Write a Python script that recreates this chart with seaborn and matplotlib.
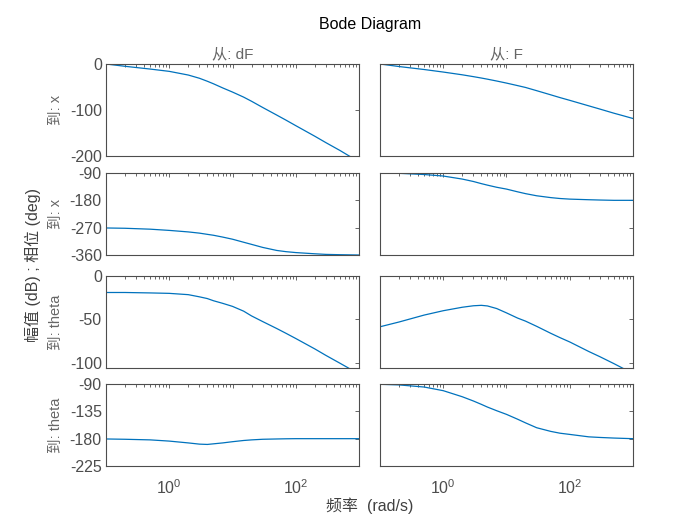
import numpy as np
import pandas as pd
import matplotlib
matplotlib.use("Agg")
import matplotlib.pyplot as plt
import matplotlib.ticker as mticker
import seaborn as sns

sns.set_theme(style="white")
plt.rcParams['font.family'] = ['Liberation Sans', 'Noto Sans CJK SC', 'DejaVu Sans']
plt.rcParams['mathtext.fontset'] = 'custom'
plt.rcParams['mathtext.rm'] = 'Liberation Sans'
plt.rcParams['axes.unicode_minus'] = False

# frequency grid (rad/s)
freq = [0.1, 0.2, 0.5, 1, 2, 3, 4, 5, 7, 10, 15, 20, 30, 50, 70, 100, 200, 300, 500, 700, 1000]

# from dF
mag_x_dF = [0, -5, -11, -16, -24, -31, -37.5, -43, -52, -61, -72, -81, -94.5, -111, -122,
            -134, -157, -171, -188, -200, -212]
phase_x_dF = [-271, -272, -275, -279, -284, -288, -292, -295, -301, -308, -318, -325, -335,
              -345, -349, -352, -356, -358, -359, -359.5, -360]
mag_th_dF = [-19, -19, -19.5, -20, -21.5, -24, -26, -28.5, -31.5, -35, -40.5, -46, -52.5,
             -60.5, -66, -72, -84, -91.5, -100.5, -106.5, -113]
phase_th_dF = [-180.5, -181, -182, -184, -187, -189, -189.5, -188.5, -187, -185, -183, -182,
               -181, -180.5, -180.2, -180, -180, -180, -180, -180, -180]

# from F
mag_x_F = [0, -5.5, -12, -17.5, -23.5, -27.5, -30.5, -33, -37, -41.5, -47, -51, -58, -67,
           -73, -79, -91, -98, -107, -112.5, -118.5]
phase_x_F = [-90, -91, -95, -100, -110, -118, -125, -130, -137, -143, -152, -158, -165,
             -171, -174, -176, -178, -179, -180, -180, -180]
mag_th_F = [-58.5, -53, -45, -40, -36, -34.3, -33.8, -34.5, -37.5, -42.5, -48.5, -52, -58, -66,
            -71, -76, -87, -93, -101, -106.5, -112]
phase_th_F = [-90.5, -91.5, -95, -101, -111, -118, -123.5, -128, -134, -140, -148, -154,
              -162, -168, -171, -173, -177, -178, -179, -179.5, -180]

inputs = ['从: dF', '从: F']
outputs = ['到: x', '到: x', '到: theta', '到: theta']
series = [[mag_x_dF, mag_x_F],
          [phase_x_dF, phase_x_F],
          [mag_th_dF, mag_th_F],
          [phase_th_dF, phase_th_F]]
ylims = [(-200, 0), (-360, -90), (-106, 0), (-225, -90)]
yticks = [[-200, -100, 0], [-360, -270, -180, -90], [-100, -50, 0], [-225, -180, -135, -90]]

line_color = '#0072BD'
frame_color = '#4d4d4d'
label_color = '#666666'

fig = plt.figure(figsize=(7, 5.25), dpi=100)

col_left = [106 / 700, 380 / 700]
col_w = 253 / 700
rows_px = [(64, 156), (173, 255), (276, 368), (384, 466)]


def dec_label(v, pos):
    if np.isclose(v, 1):
        return r'$10^0$'
    if np.isclose(v, 100):
        return r'$10^2$'
    return ''


for r in range(4):
    top, bot = rows_px[r]
    for c in range(2):
        ax = fig.add_axes([col_left[c], 1 - bot / 525, col_w, (bot - top) / 525])
        df = pd.DataFrame({'freq': freq, 'val': series[r][c]})
        sns.lineplot(data=df, x='freq', y='val', ax=ax, color=line_color, lw=0.9)
        ax.set_xscale('log')
        ax.set_xlim(0.1, 1000)
        ax.set_ylim(*ylims[r])
        ax.set_yticks(yticks[r])
        ax.xaxis.set_major_locator(mticker.LogLocator(base=10, numticks=10))
        ax.xaxis.set_minor_locator(mticker.LogLocator(base=10, subs=np.arange(2, 10), numticks=10))
        ax.xaxis.set_major_formatter(mticker.FuncFormatter(dec_label))
        ax.xaxis.set_minor_formatter(mticker.NullFormatter())
        ax.tick_params(axis='both', which='both', direction='in', top=True, right=True,
                       colors=frame_color, labelsize=11.5, length=3, width=0.6)
        ax.tick_params(axis='x', which='minor', length=1.8)
        ax.tick_params(axis='y', pad=3)
        for s in ax.spines.values():
            s.set_color(frame_color)
            s.set_linewidth(0.8)
        ax.set_xlabel('')
        ax.set_ylabel('')
        if r < 3:
            ax.tick_params(axis='x', labelbottom=False)
        else:
            ax.tick_params(axis='x', pad=9)
        if c == 1:
            ax.tick_params(axis='y', labelleft=False)
        else:
            ax.set_ylabel(outputs[r], color=label_color, fontsize=10.5, labelpad=5)
        if r == 0:
            ax.set_title(inputs[c], color=label_color, fontsize=11, pad=4)

fig.text(370 / 700, 1 - 24 / 525, 'Bode Diagram', ha='center', va='center', fontsize=11.5, color='black')
fig.text(370 / 700, 1 - 506 / 525, '频率  (rad/s)', ha='center', va='center', fontsize=11.5, color='#404040')
fig.text(33 / 700, 1 - 265 / 525, '幅值 (dB) ; 相位 (deg)', ha='center', va='center', rotation=90,
         fontsize=11.5, color='#404040')

fig.savefig('out.png', dpi=100, facecolor='white')
